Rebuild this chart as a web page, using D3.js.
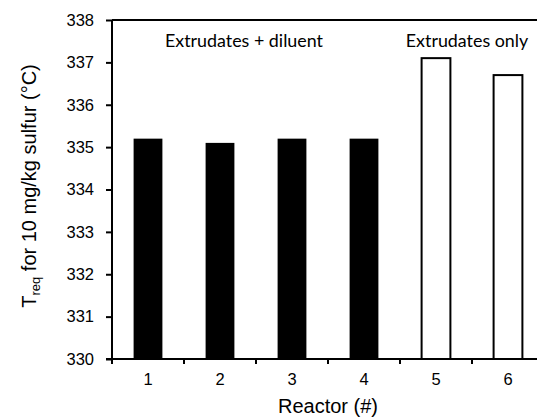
<!DOCTYPE html>
<html><head><meta charset="utf-8">
<script src="https://cdn.jsdelivr.net/npm/d3@7"></script>
<style>body{margin:0;background:#fff}svg{display:block}</style>
</head><body>
<svg id="c" width="537" height="417"></svg>
<script>
const reactors = ["1","2","3","4","5","6"];
const values = [335.2, 335.1, 335.2, 335.2, 337.1, 336.7];
const groups = ["diluent","diluent","diluent","diluent","only","only"];
const yTicks = [330,331,332,333,334,335,336,337,338];
const annotationTexts = ["Extrudates + diluent", "Extrudates only"];

const svg = d3.select("#c");
const m = {left:112, top:20, right:544, bottom:359};
const x = d3.scaleBand().domain(reactors).range([m.left, m.right]).paddingInner(0.6).paddingOuter(0.3);
const y = d3.scaleLinear().domain([330,338]).range([m.bottom, m.top]);

// bars
svg.selectAll("rect.bar").data(reactors).join("rect")
  .attr("class","bar")
  .attr("x", d => x(d))
  .attr("width", x.bandwidth())
  .attr("y", (d,i) => y(values[i]))
  .attr("height", (d,i) => y(330) - y(values[i]))
  .attr("fill", (d,i) => groups[i]==="diluent" ? "#000" : "#fff")
  .attr("stroke", "#000")
  .attr("stroke-width", (d,i) => groups[i]==="diluent" ? 0 : 2);

// top frame
svg.append("line").attr("x1", m.left).attr("x2", m.right).attr("y1", m.top).attr("y2", m.top)
  .attr("stroke","#000").attr("stroke-width",2);

// y axis
const yAx = svg.append("g").attr("transform",`translate(${m.left},0)`)
  .call(d3.axisLeft(y).tickValues(yTicks).tickSize(6).tickPadding(12).tickFormat(d3.format("d")));
yAx.select(".domain").attr("stroke-width",2).attr("d", `M0,${m.top}V${m.bottom}`);
yAx.selectAll(".tick line").attr("stroke-width",2);
yAx.selectAll("text").attr("font-family","'Liberation Sans', Arial, sans-serif").attr("font-size",16.5).attr("fill","#000");

// x axis with ticks at category boundaries
const step = x.step();
const boundaries = reactors.map((d,i) => m.left + i*step);
const xAx = svg.append("g").attr("transform",`translate(0,${m.bottom})`);
xAx.append("line").attr("x1", m.left-6).attr("x2", m.right).attr("stroke","#000").attr("stroke-width",2);
xAx.selectAll("line.t").data(boundaries).join("line").attr("class","t")
  .attr("x1", d=>d).attr("x2", d=>d).attr("y1",0).attr("y2",5).attr("stroke","#000").attr("stroke-width",2);
xAx.selectAll("text").data(reactors).join("text")
  .attr("x", d => x(d) + x.bandwidth()/2).attr("y", 26)
  .attr("text-anchor","middle")
  .attr("font-family","'Liberation Sans', Arial, sans-serif").attr("font-size",16.5).attr("fill","#000")
  .text(d=>d);

// axis titles
svg.append("text").attr("x", 328).attr("y", 413).attr("text-anchor","middle")
  .attr("font-family","'Liberation Sans', Arial, sans-serif").attr("font-size",20).attr("fill","#000")
  .text("Reactor (#)");
const yt = svg.append("text").attr("transform","translate(36,186) rotate(-90)").attr("text-anchor","middle")
  .attr("font-family","'Liberation Sans', Arial, sans-serif").attr("font-size",20).attr("fill","#000");
yt.append("tspan").text("T");
yt.append("tspan").attr("font-size",13).attr("dy",4).text("req");
yt.append("tspan").attr("dy",-4).text(" for 10 mg/kg sulfur (°C)");

// annotations
const annX = [244, 467];
const ann = svg.selectAll("text.ann").data(annotationTexts).join("text").attr("class","ann")
  .attr("x", (d,i) => annX[i])
  .attr("y", 47).attr("text-anchor","middle")
  .attr("font-family","Lato, 'Open Sans', sans-serif").attr("font-size",17).attr("fill","#000")
  .text(d=>d);
// scale font so first label is ~158px wide like the reference
const w0 = ann.node().getComputedTextLength();
if (w0 > 0) ann.attr("font-size", 17 * 158 / w0);
</script>
</body></html>
